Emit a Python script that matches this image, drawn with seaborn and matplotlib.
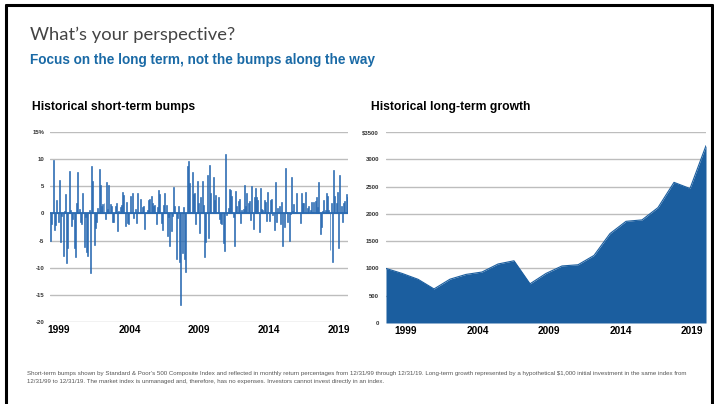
import numpy as np
import pandas as pd
import seaborn as sns
import matplotlib.pyplot as plt
from matplotlib.lines import Line2D

# monthly S&P 500 returns (%), Jan 2000 .. Dec 2019
monthly_returns = [
    -5.0, -1.9, 9.8, -3.0, -2.1, 2.5, -1.6, 6.2, -5.3, -0.4, -7.9, 0.5,
    3.5, -9.1, -6.3, 7.8, 0.7, -2.4, -1.0, -6.3, -8.1, 1.9, 7.7, 0.9,
    -1.5, -1.9, 3.8, -6.1, -0.7, -7.1, -7.8, 0.6, -10.9, 8.8, 5.9, -5.9,
    -2.6, -1.5, 1.0, 8.2, 5.3, 1.3, 1.8, 2.0, -1.1, 5.7, 0.9, 5.2,
    1.8, 1.4, -1.5, -1.6, 1.4, 1.9, -3.3, 0.4, 1.1, 1.5, 4.0, 3.4,
    -2.4, 2.1, -1.8, -1.9, 3.2, 0.1, 3.7, -0.9, 0.8, -1.7, 3.8, 0.1,
    2.6, 0.3, 1.2, 1.3, -2.9, 0.1, 0.6, 2.4, 2.6, 3.3, 1.9, 1.4,
    1.5, -2.0, 1.1, 4.4, 3.5, -1.7, -3.1, 1.5, 3.7, 1.6, -4.2, -0.7,
    -6.0, -3.2, -0.4, 4.9, 1.3, -8.4, -0.8, 1.3, -8.9, -16.8, -7.2, 1.1,
    -8.4, -10.7, 8.8, 9.6, 5.6, 0.2, 7.6, 3.6, 3.7, -1.9, 6.0, 1.9,
    -3.6, 3.1, 6.0, 1.6, -8.0, -5.2, 7.0, -4.5, 8.9, 3.8, 0.1, 6.7,
    2.4, 3.4, 0.1, 3.0, -1.1, -1.7, -2.0, -5.4, -7.0, 10.9, -0.2, 1.0,
    4.5, 4.3, 3.3, -0.6, -6.0, 4.1, 1.4, 2.3, 2.6, -1.8, 0.6, 0.9,
    5.2, 1.4, 3.8, 1.9, 2.3, -1.3, 5.1, -2.9, 3.1, 4.6, 3.0, 2.5,
    -3.5, 4.6, 0.8, 0.7, 2.4, 2.1, -1.4, 4.0, -1.4, 2.4, 2.7, -0.3,
    -3.0, 5.7, -1.6, 1.0, 1.3, -1.9, 2.1, -6.0, -2.5, 8.4, 0.3, -1.6,
    -5.0, -0.1, 6.8, 0.4, 1.8, 0.3, 3.7, 0.1, 0.1, -1.8, 3.7, 2.0,
    1.9, 4.0, 0.1, 1.0, 1.4, 0.6, 2.1, 0.3, 2.1, 2.3, 3.1, 1.1,
    5.7, -3.7, -2.5, 0.4, 2.4, 0.6, 3.7, 3.3, 0.6, -6.8, 2.0, -9.0,
    8.0, 3.2, 1.9, 4.0, -6.4, 7.0, 1.4, -1.6, 1.9, 2.2, 3.6, 3.0,
]

# hypothetical $1,000 investment, year-end values 1999..2019
growth_values = [1000, 909, 801, 624, 803, 890, 934, 1081, 1140, 718, 908,
                 1045, 1067, 1238, 1639, 1863, 1889, 2115, 2577, 2464, 3250]

year_labels = ["1999", "2004", "2009", "2014", "2019"]
left_ytick_vals = [15, 10, 5, 0, -5, -10, -15, -20]
left_ytick_text = ["15%", "10", "5", "0", "-5", "-10", "-15", "-20"]
right_ytick_vals = [3500, 3000, 2500, 2000, 1500, 1000, 500, 0]
right_ytick_text = ["$3500", "3000", "2500", "2000", "1500", "1000", "500", "0"]

bar_blue = "#2b6bb2"
area_blue = "#1b5e9f"
grid_gray = "#bdbdbd"

sns.set_theme(style="white")
plt.rcParams["font.family"] = ["Liberation Sans", "DejaVu Sans"]

fig = plt.figure(figsize=(7.14, 4.04), dpi=100)

# --- left: monthly bumps
df_m = pd.DataFrame({"month": np.arange(len(monthly_returns)), "ret": monthly_returns})
ax1 = fig.add_axes([0.070, 0.203, 0.4174, 0.4703])
for v in left_ytick_vals:
    ax1.axhline(v, color=grid_gray, lw=1, zorder=0)
sns.barplot(data=df_m, x="month", y="ret", color=bar_blue, width=0.8,
            saturation=1, edgecolor=bar_blue, linewidth=0.45, ax=ax1, zorder=2)
ax1.axhline(0, color=bar_blue, lw=1.3, zorder=3)
ax1.set_xlim(-0.5, len(monthly_returns) - 0.5)
ax1.set_ylim(-20, 15)
ax1.set_yticks(left_ytick_vals)
ax1.set_yticklabels(left_ytick_text, fontsize=4.3, fontweight="bold", color="#333333")
ax1.set_xticks([6.7, 63.5, 119.5, 175.5, 232.3])
ax1.set_xticklabels(year_labels, fontsize=7.3, fontweight="bold", color="black")
ax1.tick_params(axis="y", length=0, pad=4)
ax1.tick_params(axis="x", length=0, pad=2)
ax1.set_xlabel("")
ax1.set_ylabel("")
sns.despine(ax=ax1, left=True, bottom=True)

# --- right: long-term growth area
df_g = pd.DataFrame({"pos": np.arange(len(growth_values)), "val": growth_values})
ax2 = fig.add_axes([0.5406, 0.2005, 0.4482, 0.4728])
for v in right_ytick_vals:
    ax2.axhline(v, color=grid_gray, lw=1, zorder=0)
sns.lineplot(data=df_g, x="pos", y="val", color=area_blue, lw=0.8, ax=ax2, zorder=2)
ax2.fill_between(df_g["pos"], df_g["val"], color=area_blue, lw=0, zorder=2)
ax2.set_xlim(0, len(growth_values) - 1)
ax2.set_ylim(0, 3500)
ax2.set_yticks(right_ytick_vals)
ax2.set_yticklabels(right_ytick_text, fontsize=4.3, fontweight="bold", color="#333333")
ax2.set_xticks([1.2, 5.75, 10.2, 14.65, 19.1])
ax2.set_xticklabels(year_labels, fontsize=7.3, fontweight="bold", color="black")
ax2.tick_params(axis="y", length=0, pad=5)
ax2.tick_params(axis="x", length=0, pad=2)
ax2.set_xlabel("")
ax2.set_ylabel("")
sns.despine(ax=ax2, left=True, bottom=True)

# --- texts
fig.text(30 / 714, 1 - 35 / 404, "What\u2019s your perspective?", fontsize=13.2,
         family=["Lato", "DejaVu Sans"], fontweight="normal", color="#444444", va="center")
fig.text(30 / 714, 1 - 60 / 404, "Focus on the long term, not the bumps along the way",
         fontsize=9.8, fontweight="bold", color="#1a6aa6", va="center")
fig.text(32 / 714, 1 - 107 / 404, "Historical short-term bumps", fontsize=8.7,
         fontweight="bold", color="black", va="center")
fig.text(371 / 714, 1 - 107 / 404, "Historical long-term growth", fontsize=8.7,
         fontweight="bold", color="black", va="center")
fig.text(27 / 714, 1 - 373 / 404,
         "Short-term bumps shown by Standard & Poor\u2019s 500 Composite Index and reflected in monthly return "
         "percentages from 12/31/99 through 12/31/19. Long-term growth represented by a hypothetical $1,000 "
         "initial investment in the same index from",
         fontsize=4.4, color="#555555", va="center")
fig.text(27 / 714, 1 - 382 / 404,
         "12/31/99 to 12/31/19. The market index is unmanaged and, therefore, has no expenses. "
         "Investors cannot invest directly in an index.",
         fontsize=4.4, color="#555555", va="center")

# --- outer frame
for xs, ys in [([6 / 714, 6 / 714], [0, 1 - 5 / 404]),
               ([6 / 714, 712 / 714], [1 - 5 / 404, 1 - 5 / 404]),
               ([712 / 714, 712 / 714], [0, 1 - 5 / 404])]:
    fig.add_artist(Line2D(xs, ys, color="black", lw=2.2, transform=fig.transFigure))

fig.savefig("out.png", dpi=100)
